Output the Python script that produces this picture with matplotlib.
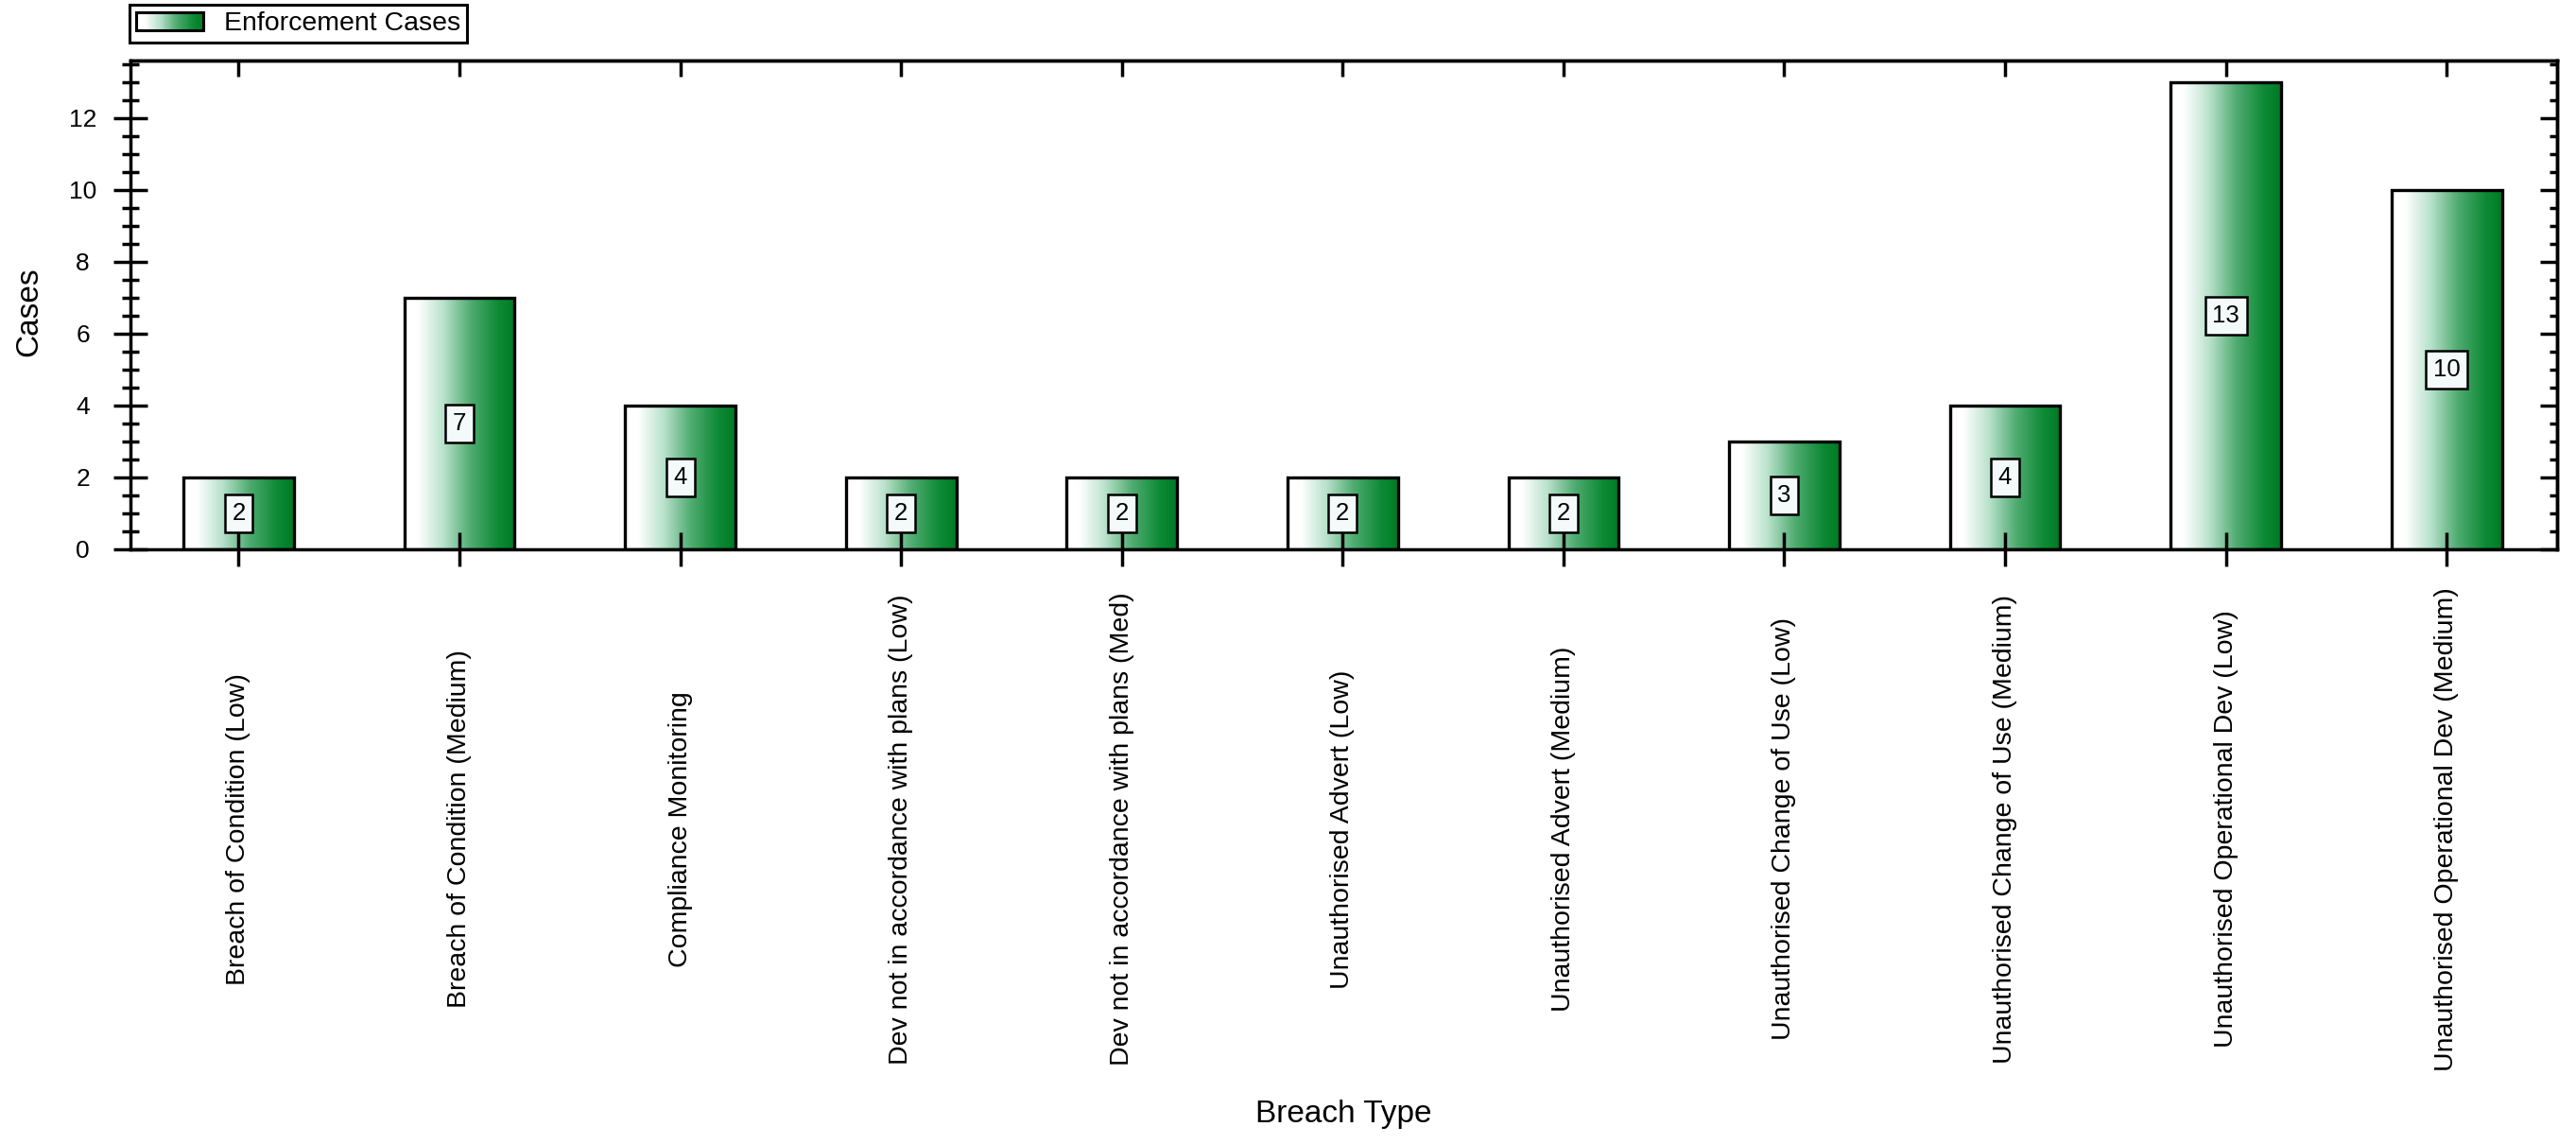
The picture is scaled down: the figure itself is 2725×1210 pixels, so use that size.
import numpy as np
import matplotlib
matplotlib.use("Agg")
import matplotlib.pyplot as plt
from matplotlib.colors import LinearSegmentedColormap
from matplotlib.patches import Rectangle
from matplotlib.legend_handler import HandlerBase
from matplotlib.ticker import MultipleLocator, FixedLocator
import matplotlib.transforms as mtransforms

plt.rcParams['font.family'] = ['Liberation Sans', 'DejaVu Sans']

# data
categories = [
    "Breach of Condition (Low)",
    "Breach of Condition (Medium)",
    "Compliance Monitoring",
    "Dev not in accordance with plans (Low)",
    "Dev not in accordance with plans (Med)",
    "Unauthorised Advert (Low)",
    "Unauthorised Advert (Medium)",
    "Unauthorised Change of Use (Low)",
    "Unauthorised Change of Use (Medium)",
    "Unauthorised Operational Dev (Low)",
    "Unauthorised Operational Dev (Medium)",
]
cases = [2, 7, 4, 2, 2, 2, 2, 3, 4, 13, 10]
series_name = "Enforcement Cases"

# white -> green gradient used in the bars
green = LinearSegmentedColormap.from_list("grn", [
    (0.0, "#ffffff"), (0.12, "#ffffff"), (0.35, "#b9e2cc"),
    (0.6, "#4fab70"), (0.85, "#0d8a35"), (1.0, "#007a25")])


class GradientHandler(HandlerBase):
    def create_artists(self, legend, orig_handle, xdescent, ydescent,
                       width, height, fontsize, trans):
        n = 40
        arts = []
        for k in range(n):
            arts.append(Rectangle((-xdescent + width * k / n, -ydescent), width / n + 0.3, height,
                                  facecolor=green((k + 0.5) / n), edgecolor='none', transform=trans))
        arts.append(Rectangle((-xdescent, -ydescent), width, height, facecolor='none',
                              edgecolor='black', lw=2.2, transform=trans))
        return arts


W, H = 2725, 1210
fig = plt.figure(figsize=(W / 100, H / 100), dpi=100)
ax = fig.add_axes([138 / W, 1 - 581 / H, (2705 - 138) / W, (581 - 64) / H])

x = np.arange(len(categories))
bars = ax.bar(x, cases, width=0.5, facecolor='none', edgecolor='black', linewidth=2.4, zorder=1)

grad = np.linspace(0, 1, 256).reshape(1, -1)
for b in bars:
    x0, y0 = b.get_x(), b.get_y()
    im = ax.imshow(grad, cmap=green, aspect='auto', interpolation='bicubic',
                   extent=(x0, x0 + b.get_width(), y0, y0 + b.get_height()), zorder=0.5)
    im.set_clip_path(b)

for xi, v in zip(x, cases):
    ax.text(xi, v / 2, str(v), ha='center', va='center', fontsize=18.5, zorder=5,
            bbox=dict(boxstyle='square,pad=0.3', facecolor='#f4fafa', edgecolor='black', linewidth=1.8))

ax.set_xlim(-0.49, 10.5)
ax.set_ylim(0, 13.6)

for s in ax.spines.values():
    s.set_linewidth(2.5)

# left axis: crossing ticks, centered labels
ax.yaxis.set_major_locator(MultipleLocator(2))
ax.yaxis.set_minor_locator(MultipleLocator(0.5))
ax.tick_params(axis='y', which='major', direction='inout', length=26.6, width=2.5,
               labelsize=19, pad=23)
ax.tick_params(axis='y', which='minor', direction='inout', length=13, width=2.5)
for lab in ax.get_yticklabels():
    lab.set_horizontalalignment('center')

# bottom axis: crossing ticks, labels drawn by hand below
ax.set_xticks(x)
ax.tick_params(axis='x', which='major', direction='inout', length=26.6, width=2.5, labelbottom=False)

# right and top: inward ticks
sec_y = ax.secondary_yaxis('right')
sec_y.yaxis.set_major_locator(MultipleLocator(2))
sec_y.yaxis.set_minor_locator(MultipleLocator(0.5))
sec_y.tick_params(which='major', direction='in', length=13, width=2.5, labelright=False)
sec_y.tick_params(which='minor', direction='in', length=6, width=2.5)
sec_y.spines['right'].set_linewidth(2.5)

sec_x = ax.secondary_xaxis('top')
sec_x.xaxis.set_major_locator(FixedLocator(x))
sec_x.tick_params(which='major', direction='in', length=12, width=2.5, labeltop=False)
sec_x.spines['top'].set_linewidth(2.5)

# category labels, rotated and centred on a common line
trans = mtransforms.blended_transform_factory(ax.transData, fig.transFigure)
for xi, c in zip(x, categories):
    ax.text(xi, 1 - 877 / H, c, rotation=90, ha='center', va='center', fontsize=20.5,
            transform=trans, clip_on=False)

fig.text(31 / W, 1 - 330 / H, "Cases", rotation=90, ha='center', va='center', fontsize=24)
fig.text(1421 / W, 1 - 1178 / H, "Breach Type", ha='center', va='center', fontsize=24)

proxy = Rectangle((0, 0), 1, 1)
leg = fig.legend([proxy], [series_name], handler_map={proxy: GradientHandler()},
                 loc='upper left', bbox_to_anchor=(137 / W, 1 - 5 / H), borderaxespad=0,
                 fontsize=20.5, fancybox=False, framealpha=1, edgecolor='black',
                 handlelength=2.5, handleheight=0.65, handletextpad=0.75, borderpad=0.25)
leg.get_frame().set_linewidth(2.2)

fig.savefig("out.png", dpi=100, facecolor='white')
